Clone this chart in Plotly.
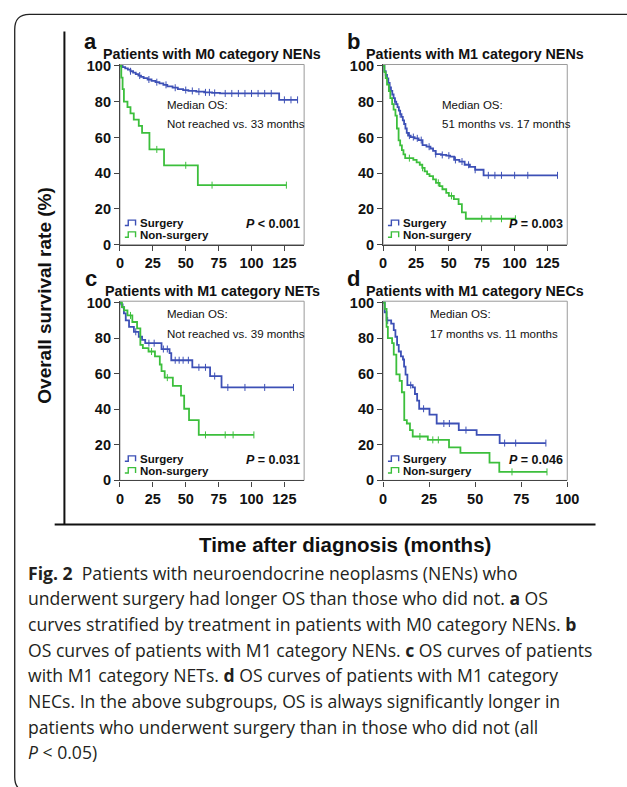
import plotly.graph_objects as go

# ---------------- data ----------------
X_TICKS_ABC = [0, 25, 50, 75, 100, 125]
X_TICKS_D = [0, 25, 50, 75, 100]
Y_TICKS = [0, 20, 40, 60, 80, 100]

# Panel a: M0 category NENs
A_SURG_T = [0, 2, 4, 6, 8, 10, 12, 14, 16, 18, 21, 24, 27, 30, 33, 36, 40, 44, 48, 52, 58, 64, 70, 76, 121, 135]
A_SURG_S = [100, 99.3, 98.6, 97.9, 97.0, 96.2, 95.4, 94.6, 93.9, 93.2, 92.4, 91.6, 90.9, 90.2, 89.4, 88.6, 87.8, 87.0, 86.5, 86.0, 85.6, 85.2, 84.9, 84.6, 81.0, 81.0]
A_SURG_CENS = [8, 15, 22, 28, 35, 42, 50, 55, 60, 65, 68, 72, 80, 85, 90, 95, 100, 105, 110, 115, 125, 130, 135]
A_NON_T = [0, 1, 2, 3, 5.7, 8, 10.5, 14.3, 16.8, 22.4, 33.5, 59.2, 126.5]
A_NON_S = [100, 93.5, 87, 80, 77, 73.5, 70, 66.5, 62.5, 53.3, 44.4, 33.3, 33.3]
A_NON_CENS = [28, 50, 70, 126.5]

# Panel b: M1 category NENs
B_SURG_T = [0, 1, 2, 3, 4, 5, 6, 7, 8, 9, 10, 11, 12, 13, 14, 15, 16, 17, 18, 19, 21, 24, 27, 30, 33, 36, 38, 40, 44, 48, 51, 54, 58, 62, 66, 70, 76.4, 132.6]
B_SURG_S = [100, 97, 95, 93, 90.5, 88, 86, 84, 82, 80, 78.6, 77, 75, 73, 71.5, 69.5, 67.5, 65, 62.5, 61, 60.2, 59.5, 58.5, 55.7, 54.8, 53.8, 52.5, 50.7, 50.2, 49.8, 49.3, 47.4, 46.5, 44.7, 43.5, 41.9, 38.8, 38.8]
B_SURG_CENS = [5, 9, 13, 20, 23, 26, 29, 35, 40, 45, 50, 55, 60, 65, 70, 80, 85, 90, 100, 110, 132.6]
B_NON_T = [0, 1, 2, 3, 4.4, 5.5, 6.9, 8, 9.4, 10.5, 11.8, 13, 14.3, 15.5, 16.8, 23, 25.5, 27.9, 29.8, 31.6, 33.5, 35.3, 38, 40.2, 43, 45.1, 48, 50, 53.8, 57.4, 59.9, 62.9, 100.6]
B_NON_S = [100, 96.5, 93.2, 89.5, 85.9, 82, 78.6, 75.5, 72.2, 65, 58.4, 55.5, 52.9, 50.5, 48.4, 47.4, 46, 44.7, 43, 41, 39.5, 38.3, 36.5, 34.6, 32.8, 31, 29, 27.3, 25.5, 22.7, 18.1, 14.5, 14.5]
B_NON_CENS = [20, 30, 42, 52, 75, 82, 90, 100.6]

# Panel c: M1 category NETs
C_SURG_T = [0, 1, 2, 3, 4.4, 6.9, 10.6, 14.3, 16.8, 19.2, 31.6, 37.7, 39, 55, 68.5, 77.2, 131.9]
C_SURG_S = [100, 99, 97.4, 94, 90, 86.4, 83.6, 80.8, 79, 77.2, 73.9, 71.6, 67.6, 63.6, 58.7, 52.3, 52.3]
C_SURG_CENS = [12, 22, 26, 33, 36, 42, 45, 48, 52, 60, 65, 72, 82, 95, 110, 131.9]
C_NON_T = [0, 1.5, 3.2, 5.7, 9.4, 13, 15.5, 17.4, 21.7, 26.6, 30.3, 31.6, 34, 40.2, 46.4, 48.8, 52.5, 59.9, 101.8]
C_NON_S = [100, 97.5, 95.6, 92.8, 89.1, 85.5, 76.2, 74.4, 72.5, 69.8, 65.2, 61.5, 57.8, 53.2, 47.7, 40.3, 33.9, 25.6, 25.6]
C_NON_CENS = [8, 24, 36, 65, 80, 86, 101.8]

# Panel d: M1 category NECs
D_SURG_T = [0, 0.9, 1.9, 4.4, 5.8, 6.7, 7.6, 8.5, 9.7, 10.8, 11.4, 12.2, 13.2, 16.1, 17.3, 18.5, 19.6, 25.2, 29.1, 41.1, 50.8, 63.3, 88.4]
D_SURG_S = [100, 94.6, 90, 88.2, 84.5, 80.8, 76.2, 72.5, 69.8, 68, 64, 59.5, 53.6, 52.3, 48.6, 44.9, 40.3, 37, 32, 28.3, 25.6, 21, 21]
D_SURG_CENS = [2.5, 15, 22, 33, 36, 45, 66, 72, 88.4]
D_NON_T = [0, 0.9, 1.9, 2.6, 4.9, 5.8, 7.2, 9, 10.2, 11.5, 12.9, 14.6, 16.1, 24.3, 35.8, 42, 57.8, 63.1, 89]
D_NON_S = [100, 96.5, 86.4, 80, 77.2, 70.7, 59.7, 56, 49.6, 33.9, 32, 28.3, 24.7, 22.8, 18.6, 15.5, 10, 4.8, 4.8]
D_NON_CENS = [20, 27, 30, 70, 89]

PANEL_LETTERS = ["a", "b", "c", "d"]
PANEL_TITLES = ["Patients with M0 category NENs", "Patients with M1 category NENs",
                "Patients with M1 category NETs", "Patients with M1 category NECs"]
MEDIAN_TEXT = ["Not reached vs. 33 months", "51 months vs. 17 months",
               "Not reached vs. 39 months", "17 months vs. 11 months"]
P_TEXT = ["<i>P</i> < 0.001", "<i>P</i> = 0.003", "<i>P</i> = 0.031", "<i>P</i> = 0.046"]
SERIES_NAMES = ["Surgery", "Non-surgery"]

CAPTION = [
    "<b>Fig. 2</b>\u00a0\u00a0Patients with neuroendocrine neoplasms (NENs) who",
    "underwent surgery had longer OS than those who did not. <b>a</b> OS",
    "curves stratified by treatment in patients with M0 category NENs. <b>b</b>",
    "OS curves of patients with M1 category NENs. <b>c</b> OS curves of patients",
    "with M1 category NETs. <b>d</b> OS curves of patients with M1 category",
    "NECs. In the above subgroups, OS is always significantly longer in",
    "patients who underwent surgery than in those who did not (all",
    "<i>P</i> < 0.05)",
]

# ---------------- layout helpers ----------------
W, H = 627, 787
BLUE = "#3d50b6"
GREEN = "#3cbf3c"
FONT = "Liberation Sans, Arial, sans-serif"
CAP_FONT = "Open Sans, Noto Sans, sans-serif"


def fx(px):
    return px / W


def fy(py):
    return 1 - py / H


def step_value(ts, ss, t):
    v = ss[0]
    for ti, si in zip(ts, ss):
        if ti <= t:
            v = si
    return v


# panel pixel geometry: (left, right, y0 pixel, y100 pixel, xmax)
PANELS = [
    (119, 308, 243, 61, 140),
    (389, 578, 243, 61, 140),
    (119, 308, 483, 302, 140),
    (389, 578, 483, 302, 100),
]
YTOP = 100.8

DATA = [
    ((A_SURG_T, A_SURG_S, A_SURG_CENS), (A_NON_T, A_NON_S, A_NON_CENS)),
    ((B_SURG_T, B_SURG_S, B_SURG_CENS), (B_NON_T, B_NON_S, B_NON_CENS)),
    ((C_SURG_T, C_SURG_S, C_SURG_CENS), (C_NON_T, C_NON_S, C_NON_CENS)),
    ((D_SURG_T, D_SURG_S, D_SURG_CENS), (D_NON_T, D_NON_S, D_NON_CENS)),
]

fig = go.Figure()
shapes = []
annotations = []
layout_axes = {}

for i, (left, right, p0, p100, xmax) in enumerate(PANELS):
    n = "" if i == 0 else str(i + 1)
    xa, ya = "x" + n, "y" + n
    ppu = (p0 - p100) / 100.0
    ptop = p0 - YTOP * ppu
    axis_common = dict(showgrid=False, zeroline=False, showline=True, linecolor="#444", linewidth=1.2,
                       ticks="outside", ticklen=5, tickcolor="#444", tickwidth=1.2,
                       tickfont=dict(family=FONT, size=14.5, color="#111", weight="bold"))
    layout_axes["xaxis" + n] = dict(domain=[fx(left), fx(right)], range=[0, xmax], anchor=ya,
                                    tickvals=X_TICKS_D if i == 3 else X_TICKS_ABC, **axis_common)
    layout_axes["yaxis" + n] = dict(domain=[fy(p0), fy(ptop)], range=[0, YTOP], anchor=xa,
                                    tickvals=Y_TICKS, **axis_common)
    # grey plot box
    shapes.append(dict(type="rect", xref=xa + " domain", yref=ya + " domain",
                       x0=0, x1=1, y0=0, y1=1, line=dict(color="#9a9a9a", width=1), layer="below"))

    for (ts, ss, cens), color in zip(DATA[i], [BLUE, GREEN]):
        fig.add_trace(go.Scatter(x=ts, y=ss, mode="lines", line=dict(color=color, width=1.8, shape="hv"),
                                 xaxis=xa, yaxis=ya, showlegend=False, hoverinfo="skip"))
        fig.add_trace(go.Scatter(x=cens, y=[step_value(ts, ss, c) for c in cens], mode="markers",
                                 marker=dict(symbol="line-ns", size=5, line=dict(color=color, width=1)),
                                 xaxis=xa, yaxis=ya, showlegend=False, hoverinfo="skip", cliponaxis=False))

    cx = (left + right) / 2
    title_y = p100 - 12
    annotations.append(dict(text="<b>" + PANEL_TITLES[i] + "</b>", x=fx(cx), y=fy(title_y),
                            xref="paper", yref="paper", showarrow=False, xanchor="center", yanchor="middle",
                            font=dict(family=FONT, size=14.3, color="#111")))
    annotations.append(dict(text="<b>" + PANEL_LETTERS[i] + "</b>", x=fx(left - 30), y=fy(p100 - 25),
                            xref="paper", yref="paper", showarrow=False, xanchor="center", yanchor="middle",
                            font=dict(family=FONT, size=22, color="#111")))
    mx = left + (58 if i == 1 else 46)
    my = p100 + (40 if i < 2 else 12)
    annotations.append(dict(text="Median OS:", x=fx(mx), y=fy(my), xref="paper", yref="paper",
                            showarrow=False, xanchor="left", yanchor="middle",
                            font=dict(family=FONT, size=11.5, color="#111")))
    annotations.append(dict(text=MEDIAN_TEXT[i], x=fx(mx), y=fy(my + 19.5), xref="paper", yref="paper",
                            showarrow=False, xanchor="left", yanchor="middle",
                            font=dict(family=FONT, size=11.5, color="#111")))
    annotations.append(dict(text="<b>" + P_TEXT[i] + "</b>", x=fx(right - 2), y=fy(p0 - 21), xref="paper",
                            yref="paper", showarrow=False, xanchor="right", yanchor="middle",
                            font=dict(family=FONT, size=12.5, color="#111")))
    # legend entries with step icons
    for k, (name, color) in enumerate(zip(SERIES_NAMES, [BLUE, GREEN])):
        yc = p0 - 22 + 12 * k
        ix = left + 5
        yb, yt = yc + 2.5, yc - 3
        path = "M {a},{b} L {c},{b} L {c},{t} L {d},{t} L {d},{b}".format(
            a=fx(ix), c=fx(ix + 3.5), d=fx(ix + 11), b=fy(yb), t=fy(yt))
        shapes.append(dict(type="path", xref="paper", yref="paper", path=path,
                           line=dict(color=color, width=1.4)))
        annotations.append(dict(text="<b>" + name + "</b>", x=fx(left + 18), y=fy(yc), xref="paper",
                                yref="paper", showarrow=False, xanchor="left", yanchor="middle",
                                font=dict(family=FONT, size=11.5, color="#111")))

# Big L axes
shapes.append(dict(type="line", xref="paper", yref="paper", x0=fx(62), x1=fx(62), y0=fy(26), y1=fy(528),
                   line=dict(color="#111", width=2)))
shapes.append(dict(type="line", xref="paper", yref="paper", x0=fx(52), x1=fx(607), y0=fy(528), y1=fy(528),
                   line=dict(color="#111", width=2)))
# rounded outer frame (runs off the right and bottom edges)
frame = ("M {r},{t} L {l2},{t} Q {l},{t} {l},{t2} L {l},{b2} Q {l},{b} {l2},{b} L {r},{b}").format(
    r=fx(660), t=fy(8.5), l=fx(11), l2=fx(26), t2=fy(24), b=fy(800), b2=fy(785))
shapes.append(dict(type="path", xref="paper", yref="paper", path=frame, line=dict(color="#222", width=1.3)))

annotations.append(dict(text="<b>Overall survival rate (%)</b>", x=fx(42), y=fy(294), xref="paper", yref="paper",
                        showarrow=False, textangle=-90, xanchor="center", yanchor="middle",
                        font=dict(family=FONT, size=19, color="#111")))
annotations.append(dict(text="<b>Time after diagnosis (months)</b>", x=fx(350), y=fy(548), xref="paper",
                        yref="paper", showarrow=False, xanchor="center", yanchor="middle",
                        font=dict(family=FONT, size=20.5, color="#111")))

for j, line in enumerate(CAPTION):
    annotations.append(dict(text=line, x=fx(23), y=fy(577 + 26.1 * j), xref="paper", yref="paper",
                            showarrow=False, xanchor="left", yanchor="middle",
                            font=dict(family=CAP_FONT, size=17.6, color="#231f20")))

fig.update_layout(width=W, height=H, margin=dict(l=0, r=0, t=0, b=0),
                  paper_bgcolor="white", plot_bgcolor="white",
                  shapes=shapes, annotations=annotations, showlegend=False, **layout_axes)

# remove the browser's default 8px page margin so the figure fills the window exactly
fig.write_html("out.html", config={"displayModeBar": False},
               post_script="document.body.style.margin='0';document.body.style.overflow='hidden';")
